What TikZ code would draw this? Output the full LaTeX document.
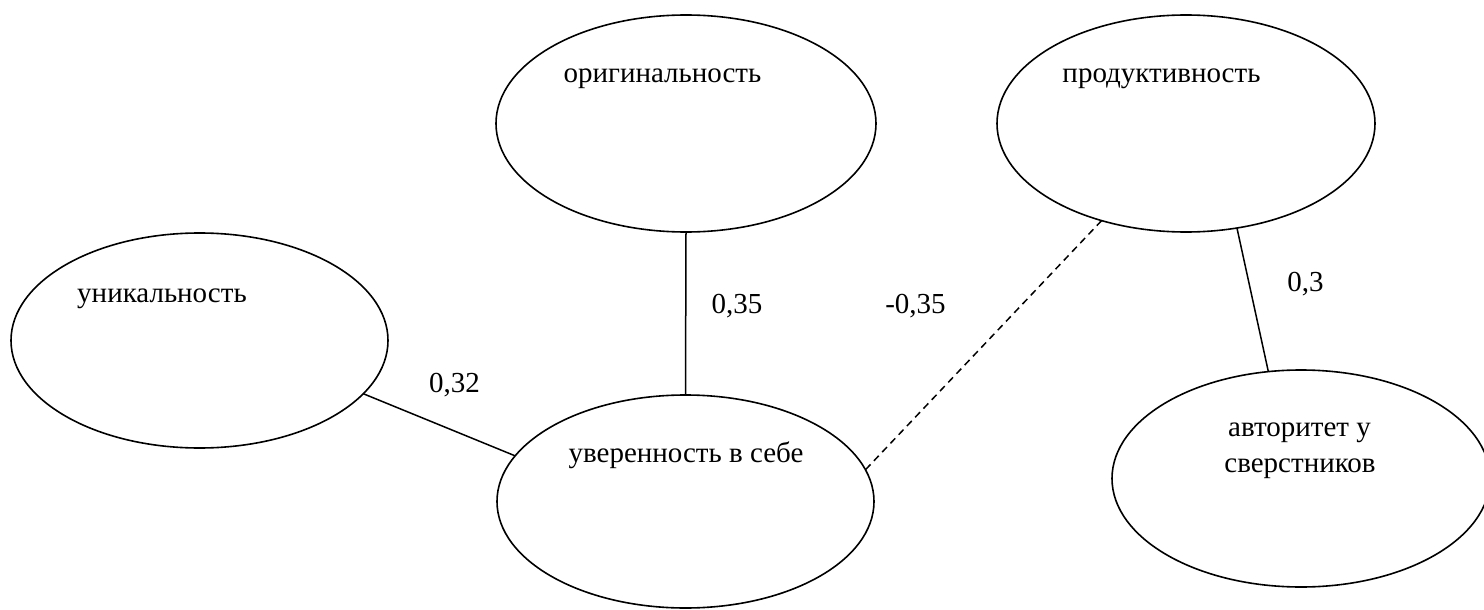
\documentclass[tikz,border=0pt]{standalone}
\usepackage{fontspec}
\setmainfont{Liberation Serif}
\usetikzlibrary{shapes.geometric}
\begin{document}
\begin{tikzpicture}[x=1pt,y=-1pt,
  oval/.style={draw=black,ellipse,line width=1.6pt,inner sep=0pt,outer sep=0pt},
  lbl/.style={anchor=base,inner sep=0pt,font=\fontsize{29}{36}\selectfont},
  link/.style={draw=black,line width=1.5pt},
  neg/.style={link,dash pattern=on 7pt off 5pt}]
\useasboundingbox[fill=white] (0,0) rectangle (1484,610);
% ellipses
\node[oval,minimum width=380pt,minimum height=217pt] (orig) at (686,123.5) {};
\node[oval,minimum width=378pt,minimum height=217pt] (prod) at (1186,123.5) {};
\node[oval,minimum width=377pt,minimum height=215pt] (unik) at (199.5,340.5) {};
\node[oval,minimum width=377pt,minimum height=213pt] (uver) at (685.5,501.5) {};
\node[oval,minimum width=378pt,minimum height=217pt] (avt) at (1301,478.5) {};
% texts
\node[lbl] (torig) at (662.5,82) {оригинальность};
\node[lbl] (tprod) at (1161.5,82) {продуктивность};
\node[lbl] (tunik) at (162,302) {уникальность};
\node[lbl] (tuver) at (686,462) {уверенность в себе};
\node[lbl] (tavt1) at (1299.5,436) {авторитет у};
\node[lbl] (tavt2) at (1300,472) {сверстников};
% connectors
\draw[link] (orig.south) -- (uver.north);
\draw[link] (unik.-18.7) -- (uver.165.7);
\draw[neg] (prod.-131.3) -- (uver.10);
\draw[link] (prod.-64.4) -- (avt.107);
% labels
\node[lbl] (l1) at (737,313) {0,35};
\node[lbl] (l2) at (915.5,313) {-0,35};
\node[lbl] (l3) at (454.5,392) {0,32};
\node[lbl] (l4) at (1305.5,291) {0,3};
\end{tikzpicture}
\end{document}
